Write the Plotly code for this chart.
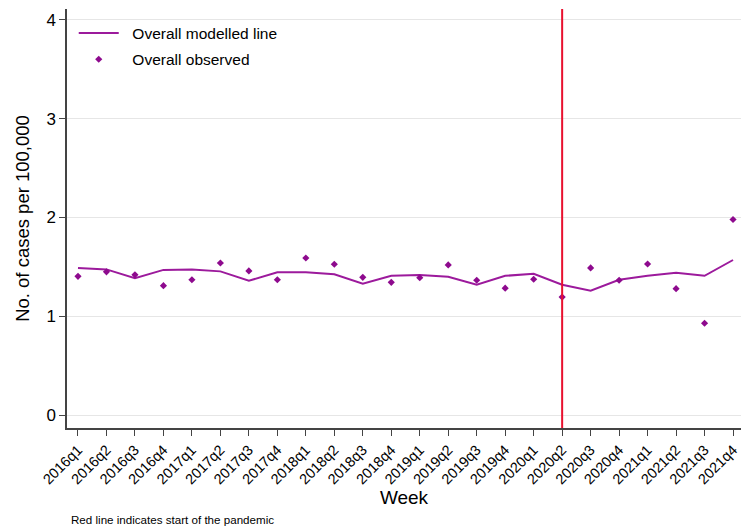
import plotly.graph_objects as go

quarters = ["2016q1","2016q2","2016q3","2016q4","2017q1","2017q2","2017q3","2017q4",
            "2018q1","2018q2","2018q3","2018q4","2019q1","2019q2","2019q3","2019q4",
            "2020q1","2020q2","2020q3","2020q4","2021q1","2021q2","2021q3","2021q4"]
modelled = [1.49,1.475,1.385,1.47,1.475,1.455,1.36,1.445,
            1.445,1.425,1.33,1.41,1.418,1.40,1.32,1.41,
            1.43,1.32,1.26,1.37,1.41,1.44,1.41,1.57]
observed = [1.405,1.45,1.42,1.31,1.37,1.54,1.46,1.37,
            1.59,1.527,1.395,1.344,1.39,1.52,1.365,1.285,
            1.375,1.195,1.49,1.365,1.53,1.28,0.93,1.98]
y_ticks = [0,1,2,3,4]
pandemic_start = "2020q2"

color = "#9c1a9c"
font = "Liberation Sans, Arial, sans-serif"
pad = "\u00a0\u00a0"

fig = go.Figure()
fig.add_trace(go.Scatter(x=quarters, y=modelled, mode="lines", name=pad + "Overall modelled line",
                         legendgroup="a", line=dict(color=color, width=2), cliponaxis=False))
fig.add_trace(go.Scatter(x=quarters, y=observed, mode="markers", name=pad + "Overall observed",
                         legendgroup="b", marker=dict(color="#8e0a8e", symbol="diamond", size=5.5),
                         cliponaxis=False))

fig.add_shape(type="line", xref="x", yref="paper", x0=pandemic_start, x1=pandemic_start,
              y0=0, y1=1, line=dict(color="#e8102e", width=2))

fig.add_annotation(text="Red line indicates start of the pandemic", xref="paper", yref="paper",
                   x=0.003, y=-0.218, xanchor="left", yanchor="middle", showarrow=False,
                   font=dict(size=11.6, color="#000000", family=font))

fig.update_layout(
    width=741, height=529,
    margin=dict(l=67, r=0, t=9, b=101, autoexpand=False),
    paper_bgcolor="white", plot_bgcolor="white",
    font=dict(family=font, color="#000000"),
    showlegend=True,
    legend=dict(x=0.01, y=0.982, xanchor="left", yanchor="top", bgcolor="rgba(0,0,0,0)",
                font=dict(size=15.5, family=font), itemwidth=40, traceorder="grouped",
                tracegroupgap=3),
    xaxis=dict(type="category", range=[-0.386, 23.28], showgrid=False, automargin=False,
               showline=True, linecolor="#444444", linewidth=1.5,
               ticks="outside", ticklen=6, tickcolor="#444444", tickangle=-45,
               tickfont=dict(size=14.5), title=dict(text="Week", font=dict(size=19), standoff=3),
               zeroline=False),
    yaxis=dict(range=[-0.13, 4.11], tickvals=y_ticks, showgrid=True, gridcolor="#e6e6e6",
               gridwidth=1, showline=True, linecolor="#444444", linewidth=1.5, automargin=False,
               ticks="outside", ticklen=6, tickcolor="#444444", tickfont=dict(size=17),
               title=dict(text="No. of cases per 100,000", font=dict(size=18.5), standoff=12),
               zeroline=False),
)

fig.write_html("out.html", config={"displayModeBar": False},
               post_script="document.body.style.margin='0';document.body.style.overflow='hidden';")
